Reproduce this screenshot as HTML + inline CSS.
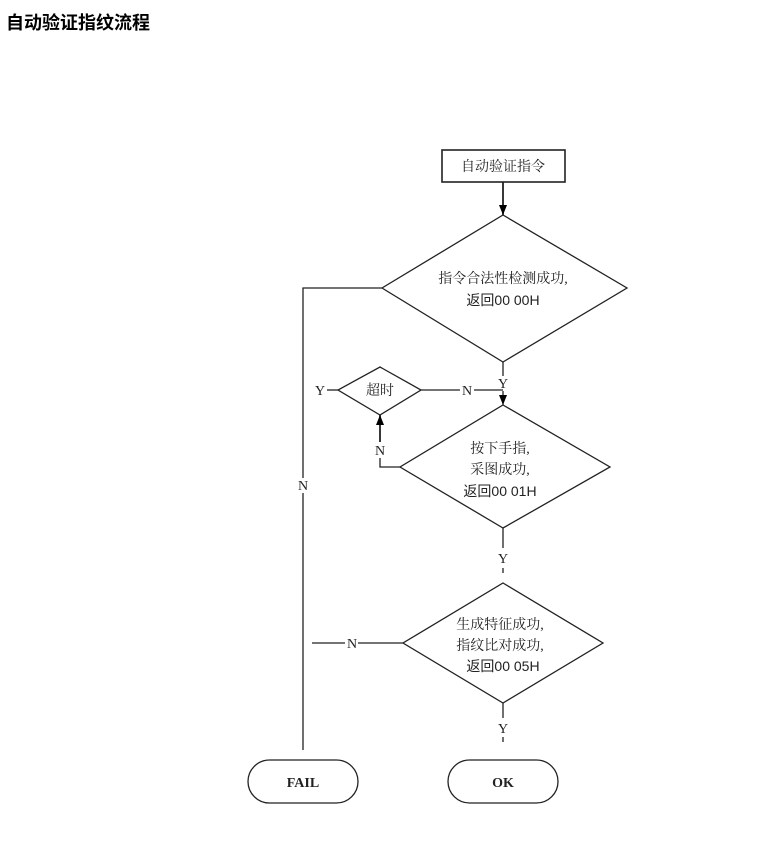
<!DOCTYPE html>
<html><head><meta charset="utf-8"><style>
body{margin:0;background:#fff;width:776px;height:841px;overflow:hidden;}
h1{position:absolute;left:6px;top:9px;margin:0;font:bold 18px "Liberation Sans","Noto Sans CJK SC",sans-serif;color:#000;}
</style></head><body>
<h1>自动验证指纹流程</h1>
<svg width="776" height="841" style="position:absolute;left:0;top:0" font-family="'Liberation Serif','Noto Serif CJK SC',serif" font-size="14">
<defs><marker id="a" markerWidth="10" markerHeight="8" refX="10" refY="4" orient="auto" markerUnits="userSpaceOnUse"><path d="M0,0 L10,4 L0,8 z" fill="#000"/></marker></defs>
<g stroke="#222" stroke-width="1.3" fill="none">
<rect x="442" y="150" width="123" height="32" stroke-width="1.6"/>
<line x1="503" y1="182" x2="503" y2="215" marker-end="url(#a)" stroke-width="1.8"/>
<polygon points="503,215 627,288 503,362 382,288"/>
<polyline points="382,288 303,288 303,478"/>
<line x1="303" y1="493" x2="303" y2="750"/>
<line x1="503" y1="362" x2="503" y2="376"/>
<line x1="503" y1="391" x2="503" y2="405" marker-end="url(#a)"/>
<polygon points="380,367 421,390 380,415 338,390"/>
<line x1="327" y1="390" x2="338" y2="390"/>
<line x1="421" y1="390" x2="460" y2="390"/>
<line x1="474" y1="390" x2="503" y2="390"/>
<polygon points="503,405 610,467 503,528 400,467"/>
<polyline points="400,467 380,467 380,458"/>
<line x1="380" y1="442" x2="380" y2="415" marker-end="url(#a)" stroke-width="1.8"/>
<line x1="503" y1="528" x2="503" y2="548"/>
<line x1="503" y1="568" x2="503" y2="573"/>
<polygon points="503,583 603,643 503,703 403,643"/>
<line x1="312" y1="643" x2="345" y2="643"/>
<line x1="358" y1="643" x2="403" y2="643"/>
<line x1="503" y1="703" x2="503" y2="718"/>
<line x1="503" y1="737" x2="503" y2="742"/>
<rect x="248" y="760" width="110" height="43" rx="21.5"/>
<rect x="448" y="760" width="110" height="43" rx="21.5"/>
</g>
<g fill="#222" text-anchor="middle">
<text x="503" y="171">自动验证指令</text>
<text x="503" y="283">指令合法性检测成功,</text>
<text x="503" y="305" font-family="'Liberation Sans','Noto Sans CJK SC',sans-serif">返回00 00H</text>
<text x="503" y="388">Y</text>
<text x="380" y="395">超时</text>
<text x="320" y="395">Y</text>
<text x="467" y="395">N</text>
<text x="380" y="455">N</text>
<text x="303" y="490">N</text>
<text x="500" y="453">按下手指,</text>
<text x="500" y="474">采图成功,</text>
<text x="500" y="496" font-family="'Liberation Sans','Noto Sans CJK SC',sans-serif">返回00 01H</text>
<text x="503" y="563">Y</text>
<text x="500" y="629">生成特征成功,</text>
<text x="500" y="650">指纹比对成功,</text>
<text x="503" y="671" font-family="'Liberation Sans','Noto Sans CJK SC',sans-serif">返回00 05H</text>
<text x="352" y="648">N</text>
<text x="503" y="733">Y</text>
<text x="303" y="787" font-weight="bold">FAIL</text>
<text x="503" y="787" font-weight="bold">OK</text>
</g>
</svg>
</body></html>
